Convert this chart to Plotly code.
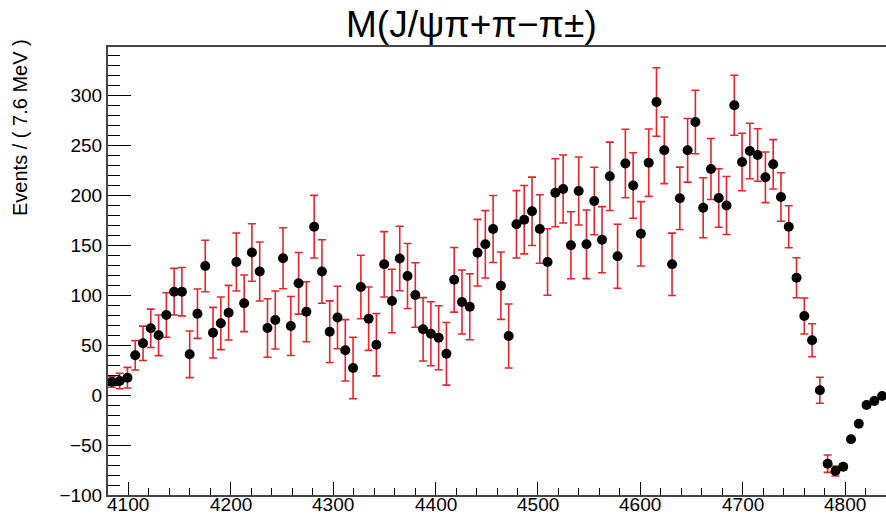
import numpy as np
import plotly.graph_objects as go

# Histogram binning: 100 bins of 7.6 MeV from 4080 to 4840 MeV
bin_low = 4080.0
bin_width = 7.6
n_bins = 100
mass = np.round(bin_low + bin_width * (np.arange(n_bins) + 0.5), 2)

events = [
    13.3, 14.0, 17.3, 39.7, 51.7, 66.7, 59.7, 80.0, 103.3, 103.3,
    40.7, 81.3, 129.0, 62.3, 71.7, 82.3, 133.0, 91.7, 142.5, 123.5,
    67.0, 75.0, 136.7, 69.0, 111.7, 83.3, 168.3, 123.5, 63.3, 77.5,
    44.7, 27.0, 108.0, 76.3, 50.3, 130.7, 94.0, 136.5, 119.0, 100.0,
    65.7, 61.3, 57.3, 41.2, 115.2, 93.0, 88.2, 142.3, 150.7, 166.0,
    109.3, 59.0, 170.7, 175.3, 183.7, 166.0, 133.0, 202.3, 206.0, 149.7,
    204.0, 150.7, 194.0, 155.3, 218.7, 138.8, 231.5, 209.5, 161.2, 232.3,
    293.0, 244.7, 130.7, 196.7, 244.7, 273.0, 187.3, 226.0, 197.0, 189.5,
    289.7, 233.0, 244.0, 240.0, 217.7, 230.7, 198.0, 168.2, 117.3, 79.0,
    54.7, 4.7, -68.7, -76.0, -71.7, -44.3, -28.7, -10.0, -6.0, -1.0,
]

errors = [
    5.5, 7.7, 10.3, 14.7, 17.2, 19.2, 20.3, 22.2, 23.3, 24.2,
    23.3, 24.7, 25.7, 25.3, 26.3, 27.3, 29.0, 28.3, 28.8, 29.5,
    29.2, 29.0, 30.5, 29.5, 30.8, 30.0, 31.3, 31.7, 30.8, 31.2,
    30.7, 30.8, 31.7, 31.7, 31.2, 32.7, 31.8, 32.2, 32.5, 32.2,
    31.7, 32.0, 32.0, 31.3, 32.3, 32.0, 33.0, 33.3, 33.7, 33.5,
    33.7, 32.0, 33.7, 34.2, 34.2, 34.3, 33.3, 34.0, 34.0, 33.5,
    34.0, 34.3, 33.7, 33.1, 34.2, 32.0, 34.2, 32.8, 32.2, 33.7,
    34.2, 33.3, 31.2, 31.2, 31.8, 31.7, 30.0, 30.5, 29.2, 29.0,
    30.0, 28.8, 27.7, 26.2, 25.3, 24.7, 24.2, 21.0, 20.0, 18.0,
    16.5, 13.0, 8.7, 5.0, 3.0, 2.0, 1.5, 1.0, 1.0, 0.5,
]

x_ticks = [4100, 4200, 4300, 4400, 4500, 4600, 4700, 4800]
x_tick_labels = ["4100", "4200", "4300", "4400", "4500", "4600", "4700", "4800"]
y_ticks = [-100, -50, 0, 50, 100, 150, 200, 250, 300]

title_text = "M(J/ψπ+π−π±)"
y_title = "Events / ( 7.6 MeV )"

FONT = "Liberation Sans, Arial, Helvetica, sans-serif"

fig = go.Figure()
fig.add_trace(go.Scatter(
    x=mass, y=events, mode="markers",
    marker=dict(color="black", size=10, symbol="circle"),
    error_y=dict(type="data", array=errors, visible=True,
                 color="#e3262b", thickness=1.6, width=4),
    showlegend=False,
))

annotations = [
    dict(text=title_text, xref="paper", yref="paper",
         x=(471 - 108) / 778, y=1, yshift=23, xanchor="center", yanchor="middle",
         showarrow=False, font=dict(size=37, family=FONT, color="black")),
    dict(text=y_title, xref="paper", yref="paper",
         x=0, xshift=-88, y=1, yshift=-81, textangle=-90,
         xanchor="center", yanchor="middle",
         showarrow=False, font=dict(size=20, family=FONT, color="black")),
]
# x-axis tick labels placed just under the axis (as in the reference, tight to the bottom)
for xv, lab in zip(x_ticks, x_tick_labels):
    annotations.append(dict(
        text=lab, x=xv, xref="x", y=0, yref="paper", yshift=-20,
        xanchor="center", yanchor="bottom", showarrow=False,
        borderpad=0, borderwidth=0,
        font=dict(size=19, family=FONT, color="black")))

fig.update_layout(
    width=886, height=516,
    margin=dict(l=108, r=0, t=47, b=21),
    paper_bgcolor="white", plot_bgcolor="white",
    font=dict(family=FONT, color="black"),
    xaxis=dict(
        range=[4080, 4840], automargin=False,
        tickmode="array", tickvals=x_ticks, showticklabels=False,
        ticks="inside", ticklen=13, tickwidth=1.2, tickcolor="black",
        minor=dict(ticks="inside", ticklen=7, dtick=20, tick0=4100,
                   tickcolor="black", tickwidth=1.2),
        showline=True, linecolor="#444", linewidth=2, mirror=True,
        showgrid=False, zeroline=False,
    ),
    yaxis=dict(
        range=[-100, 348], automargin=False,
        tickmode="array", tickvals=y_ticks,
        ticks="inside", ticklen=23, tickwidth=1.2, tickcolor="black",
        minor=dict(ticks="inside", ticklen=12, dtick=10, tick0=0,
                   tickcolor="black", tickwidth=1.2),
        showline=True, linecolor="#444", linewidth=2, mirror=False,
        showgrid=False, zeroline=False,
        tickfont=dict(size=19, family=FONT, color="black"),
    ),
    annotations=annotations,
)

fig.write_html("out.html")
